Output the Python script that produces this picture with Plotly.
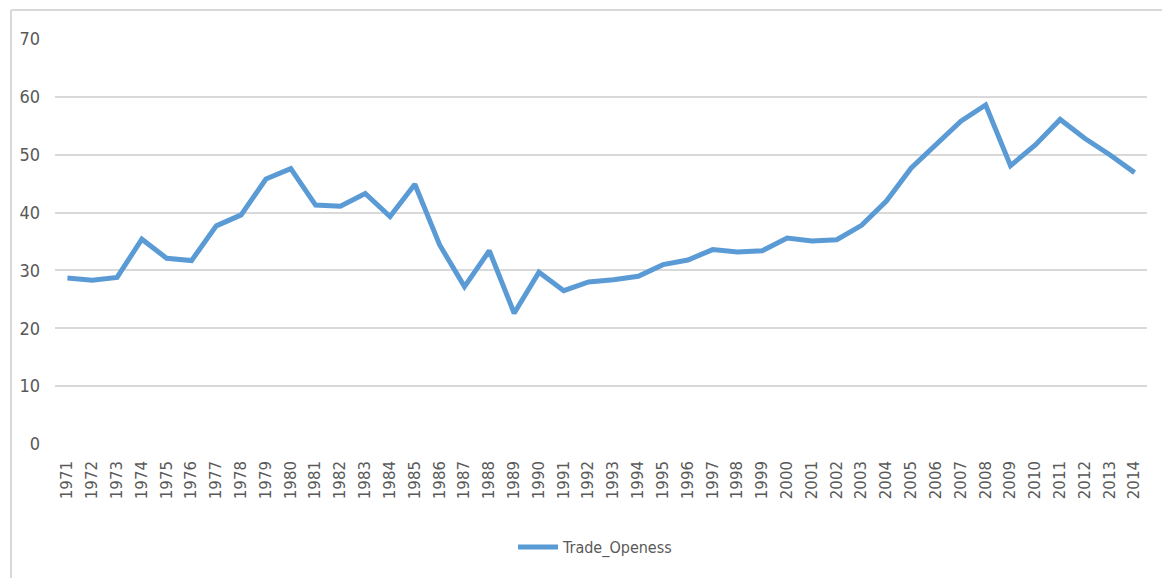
import plotly.graph_objects as go

years = [str(y) for y in range(1971, 2015)]
trade_openess = [28.7, 28.3, 28.8, 35.4, 32.1, 31.7, 37.7, 39.6, 45.8, 47.6,
                 41.3, 41.1, 43.3, 39.3, 44.9, 34.4, 27.2, 33.4, 22.6, 29.7,
                 26.5, 28.0, 28.4, 29.0, 31.0, 31.8, 33.6, 33.2, 33.4, 35.6,
                 35.1, 35.3, 37.8, 42.0, 47.7, 51.8, 55.8, 58.6, 48.1, 51.7,
                 56.1, 52.8, 50.0, 46.9]
y_ticks = [0, 10, 20, 30, 40, 50, 60, 70]
series_name = "Trade_Openess"

W, H = 1162, 578
ML, MR, MT, MB = 55, 15, 39, 134
pw = W - ML - MR
ph = H - MT - MB

narrow = "Liberation Sans Narrow, DejaVu Sans Condensed, Arial Narrow, sans-serif"
gray = "#595959"

fig = go.Figure()
fig.add_trace(go.Scatter(
    x=years, y=trade_openess, mode="lines", name=series_name,
    line=dict(color="#5B9BD5", width=5, shape="linear"),
))

def px_to_paper_x(p):
    return (p - ML) / pw

def px_to_paper_y(p):
    return (H - MB - p) / ph

border = "#D9D9D9"
fig.update_layout(
    width=W, height=H,
    margin=dict(l=ML, r=MR, t=MT, b=MB, pad=0),
    paper_bgcolor="white", plot_bgcolor="white",
    showlegend=True,
    legend=dict(orientation="h", x=0.495, xanchor="center",
                y=px_to_paper_y(547), yanchor="middle",
                font=dict(family=narrow, size=16, color=gray),
                itemwidth=40),
    xaxis=dict(type="category", tickangle=-90, showgrid=False,
               range=[-0.5, len(years) - 0.5],
               showline=False, zeroline=False, ticks="",
               ticklabelstandoff=13,
               tickfont=dict(family="DejaVu Sans, sans-serif", size=15, color=gray)),
    yaxis=dict(range=[0, 70], tickvals=y_ticks, showgrid=True,
               gridcolor="#D9D9D9", gridwidth=2, zeroline=False,
               showline=False, ticks="", ticklabelstandoff=14,
               tickfont=dict(family=narrow, size=18, color=gray)),
    shapes=[
        dict(type="line", xref="paper", yref="paper",
             x0=px_to_paper_x(11), x1=px_to_paper_x(11),
             y0=px_to_paper_y(10), y1=px_to_paper_y(H + 5),
             line=dict(color=border, width=2)),
        dict(type="line", xref="paper", yref="paper",
             x0=px_to_paper_x(11), x1=px_to_paper_x(W + 5),
             y0=px_to_paper_y(10), y1=px_to_paper_y(10),
             line=dict(color=border, width=2)),
    ],
)

fig.write_html("out.html")
